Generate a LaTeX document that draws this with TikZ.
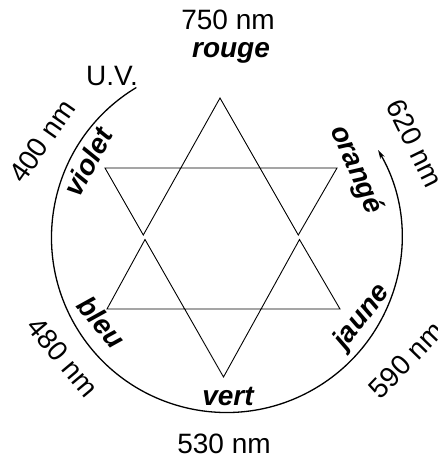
\documentclass[tikz,border=0pt]{standalone}
\usepackage{fontspec}
\setmainfont{Liberation Sans}
\usetikzlibrary{arrows.meta}
\begin{document}
\begin{tikzpicture}[x=1pt,y=-1pt,
  lbl/.style={font=\fontsize{28}{30}\selectfont, inner sep=0pt},
  col/.style={font=\fontsize{28}{30}\selectfont\bfseries\itshape, inner sep=0pt},
  starline/.style={line width=0.9pt, line join=miter},
  arcline/.style={line width=1.3pt}]
\useasboundingbox (0,0) rectangle (438,459);
% circle arc
\coordinate (O) at (226.5,237.5);
\coordinate (uvend) at ([shift={(-121:175)}]O);
\draw[arcline, -{Stealth[length=9pt,width=5pt]}] (uvend) arc[start angle=-121, end angle=-390, radius=175];
% star
\coordinate (A) at (220,98);
\coordinate (TL) at (105,168);
\coordinate (TR) at (337,168);
\coordinate (VL) at (143.3,235);
\coordinate (VR) at (298.3,235);
\coordinate (LL) at (145,239.5);
\coordinate (LR) at (299.5,239.5);
\coordinate (BL) at (107,309);
\coordinate (BR) at (340,309);
\coordinate (B) at (223.5,377);
\draw[starline] (VL) -- (TL) -- (TR) -- (VR) -- (A) -- cycle;
\draw[starline] (LL) -- (BL) -- (BR) -- (LR) -- (B) -- cycle;
% labels
\node[lbl] (t750) at (228,20) {750 nm};
\node[col] (rouge) at (231,53) {rouge};
\node[lbl] (uv) at (112,76) {U.V.};
\node[lbl, rotate=55] (t400) at (42,141) {400 nm};
\node[col, rotate=62] (violet) at (88,162) {violet};
\node[lbl, rotate=-64] (t620) at (415,143) {620 nm};
\node[col, rotate=-66] (orange) at (356,170) {orangé};
\node[col, rotate=52] (jaune) at (362,317) {jaune};
\node[lbl, rotate=46] (t590) at (406,360) {590 nm};
\node[col, rotate=-50] (bleu) at (102,322) {bleu};
\node[lbl, rotate=-50] (t480) at (63,357) {480 nm};
\node[col] (vert) at (228,396) {vert};
\node[lbl] (t530) at (224,444) {530 nm};
\end{tikzpicture}
\end{document}
